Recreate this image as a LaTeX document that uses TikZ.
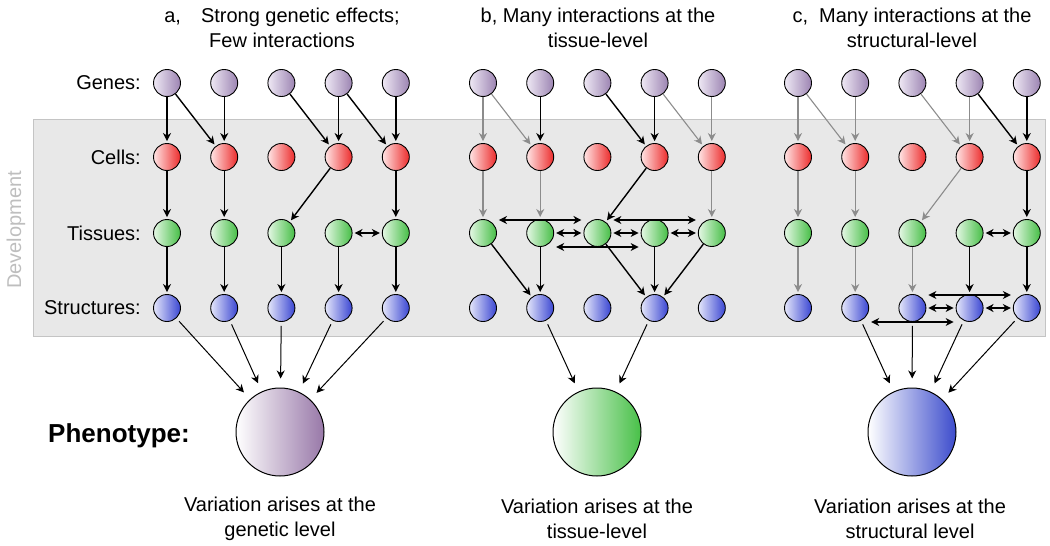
\documentclass[tikz,border=0pt]{standalone}
\usepackage{fontspec}
\setmainfont{Liberation Sans}
\usetikzlibrary{arrows.meta}
\definecolor{geneL}{RGB}{238,232,244}
\definecolor{geneR}{RGB}{156,132,178}
\definecolor{cellL}{RGB}{255,228,228}
\definecolor{cellR}{RGB}{236,44,44}
\definecolor{tissueL}{RGB}{228,247,228}
\definecolor{tissueR}{RGB}{70,190,70}
\definecolor{structL}{RGB}{228,230,250}
\definecolor{structR}{RGB}{58,70,210}
\definecolor{devFill}{RGB}{232,232,232}
\definecolor{devLine}{RGB}{196,196,196}
\definecolor{devText}{RGB}{190,190,190}
\definecolor{weakGray}{RGB}{140,140,140}
\definecolor{phenoA}{RGB}{152,120,168}
\definecolor{phenoB}{RGB}{72,192,72}
\definecolor{phenoC}{RGB}{60,76,204}

\begin{document}
\begin{tikzpicture}[x=1pt, y=-1pt, >={Stealth[length=8pt,width=8pt,inset=2.5pt]}]
  \tikzstyle{dot} = [draw, circle, line width=0.9pt, inner sep=0pt, minimum size=27pt]
  \tikzstyle{gene} = [dot, left color=geneL, right color=geneR]
  \tikzstyle{cell} = [dot, left color=cellL, right color=cellR]
  \tikzstyle{tissue} = [dot, left color=tissueL, right color=tissueR]
  \tikzstyle{structure} = [dot, left color=structL, right color=structR]
  \tikzstyle{pheno} = [draw, circle, line width=1pt, inner sep=0pt, minimum size=88pt, left color=white]
  \tikzstyle{devEdge} = [line width=1.4pt, ->, shorten >=2pt]
  \tikzstyle{weakEdge} = [devEdge, weakGray, line width=1.1pt]
  \tikzstyle{linkEdge} = [line width=1.4pt, <->, shorten >=2pt, shorten <=2pt]
  \tikzstyle{phenoEdge} = [line width=1pt, ->, shorten <=4pt, shorten >=9pt]
  \tikzstyle{rowLabel} = [anchor=east, inner sep=0pt, font={\fontsize{20}{24}\selectfont}]
  \tikzstyle{caption} = [align=center, inner sep=0pt, font={\fontsize{20}{25}\selectfont}]

  \useasboundingbox (0,0) rectangle (1050,546);
  \draw[devLine, fill=devFill] (33,119) rectangle (1045,336);
  \node[rotate=90, text=devText, font={\fontsize{20}{24}\selectfont}] (dev) at (16,230) {Development};

  \foreach \p/\x in {a/167,b/483,c/798}
    \foreach \i in {1,...,5} {
      \node[gene] (\p g\i) at ({\x+57.2*(\i-1)},83) {};
      \node[cell] (\p c\i) at ({\x+57.2*(\i-1)},157) {};
      \node[tissue] (\p t\i) at ({\x+57.2*(\i-1)},233) {};
      \node[structure] (\p s\i) at ({\x+57.2*(\i-1)},308) {};
    }
  \node[pheno, right color=phenoA] (pa) at (280,432) {};
  \node[pheno, right color=phenoB] (pb) at (597,432) {};
  \node[pheno, right color=phenoC] (pc) at (912,432) {};

  \node[rowLabel] (lblGenes) at (141,83) {Genes:};
  \node[rowLabel] (lblCells) at (141,157) {Cells:};
  \node[rowLabel] (lblTissues) at (141,233) {Tissues:};
  \node[rowLabel] (lblStructures) at (141,308) {Structures:};
  \node[anchor=west, inner sep=0pt, font={\bfseries\fontsize{26}{30}\selectfont}] (lblPheno) at (48,436) {Phenotype:};

  \node[caption] (headA) at (282,28) {a,\quad Strong genetic effects;\\Few interactions};
  \node[caption] (headB) at (598,28) {b, Many interactions at the\\tissue-level};
  \node[caption] (headC) at (912,28) {c,\ \ Many interactions at the\\structural-level};
  \node[caption] (footA) at (280,519) {Variation arises at the\\genetic level};
  \node[caption] (footB) at (597,519) {Variation arises at the\\tissue-level};
  \node[caption] (footC) at (910,519) {Variation arises at the\\structural level};

  \draw (ag1) edge[devEdge] (ac1) (ag1) edge[devEdge] (ac2) (ag2) edge[devEdge] (ac2);
  \draw (ag3) edge[devEdge] (ac4) (ag4) edge[devEdge] (ac4) (ag4) edge[devEdge] (ac5) (ag5) edge[devEdge] (ac5);
  \draw (ac1) edge[devEdge] (at1) (ac2) edge[devEdge] (at2) (ac4) edge[devEdge] (at3) (ac5) edge[devEdge] (at5);
  \draw (at4) edge[linkEdge] (at5);
  \foreach \i in {1,...,5}
    \draw (at\i) edge[devEdge] (as\i) (as\i) edge[phenoEdge] (pa);

  \draw (bg1) edge[weakEdge] (bc1) (bg1) edge[weakEdge] (bc2) (bg2) edge[devEdge] (bc2);
  \draw (bg3) edge[devEdge] (bc4) (bg4) edge[devEdge] (bc4) (bg4) edge[weakEdge] (bc5) (bg5) edge[weakEdge] (bc5);
  \draw (bc1) edge[weakEdge] (bt1) (bc2) edge[weakEdge] (bt2) (bc4) edge[devEdge] (bt3) (bc5) edge[weakEdge] (bt5);
  \draw (bt2) edge[linkEdge] (bt3) (bt3) edge[linkEdge] (bt4) (bt4) edge[linkEdge] (bt5);
  \draw ([yshift=13pt]bt1.east) edge[linkEdge] ([yshift=13pt]bt3.west)
        ([yshift=13pt]bt3.east) edge[linkEdge] ([yshift=13pt]bt5.west)
        ([yshift=-14pt]bt2.east) edge[linkEdge] ([yshift=-14pt]bt4.west);
  \draw (bt1) edge[devEdge] (bs2) (bt2) edge[devEdge] (bs2) (bt3) edge[devEdge] (bs4) (bt4) edge[devEdge] (bs4) (bt5) edge[devEdge] (bs4);
  \draw (bs2) edge[phenoEdge] (pb) (bs4) edge[phenoEdge] (pb);

  \draw (cg1) edge[weakEdge] (cc1) (cg1) edge[weakEdge] (cc2) (cg2) edge[weakEdge] (cc2);
  \draw (cg3) edge[weakEdge] (cc4) (cg4) edge[weakEdge] (cc4) (cg4) edge[devEdge] (cc5) (cg5) edge[devEdge] (cc5);
  \draw (cc1) edge[weakEdge] (ct1) (cc2) edge[weakEdge] (ct2) (cc4) edge[weakEdge] (ct3) (cc5) edge[devEdge] (ct5);
  \draw (ct4) edge[linkEdge] (ct5);
  \draw (ct1) edge[weakEdge] (cs1) (ct2) edge[weakEdge] (cs2) (ct3) edge[weakEdge] (cs3) (ct4) edge[devEdge] (cs4) (ct5) edge[devEdge] (cs5);
  \draw (cs3) edge[linkEdge] (cs4) (cs4) edge[linkEdge] (cs5);
  \draw ([yshift=13pt]cs3.east) edge[linkEdge] ([yshift=13pt]cs5.west)
        ([yshift=-14pt]cs2.east) edge[linkEdge] ([yshift=-14pt]cs4.west);
  \foreach \i in {2,...,5}
    \draw (cs\i) edge[phenoEdge] (pc);
\end{tikzpicture}
\end{document}
